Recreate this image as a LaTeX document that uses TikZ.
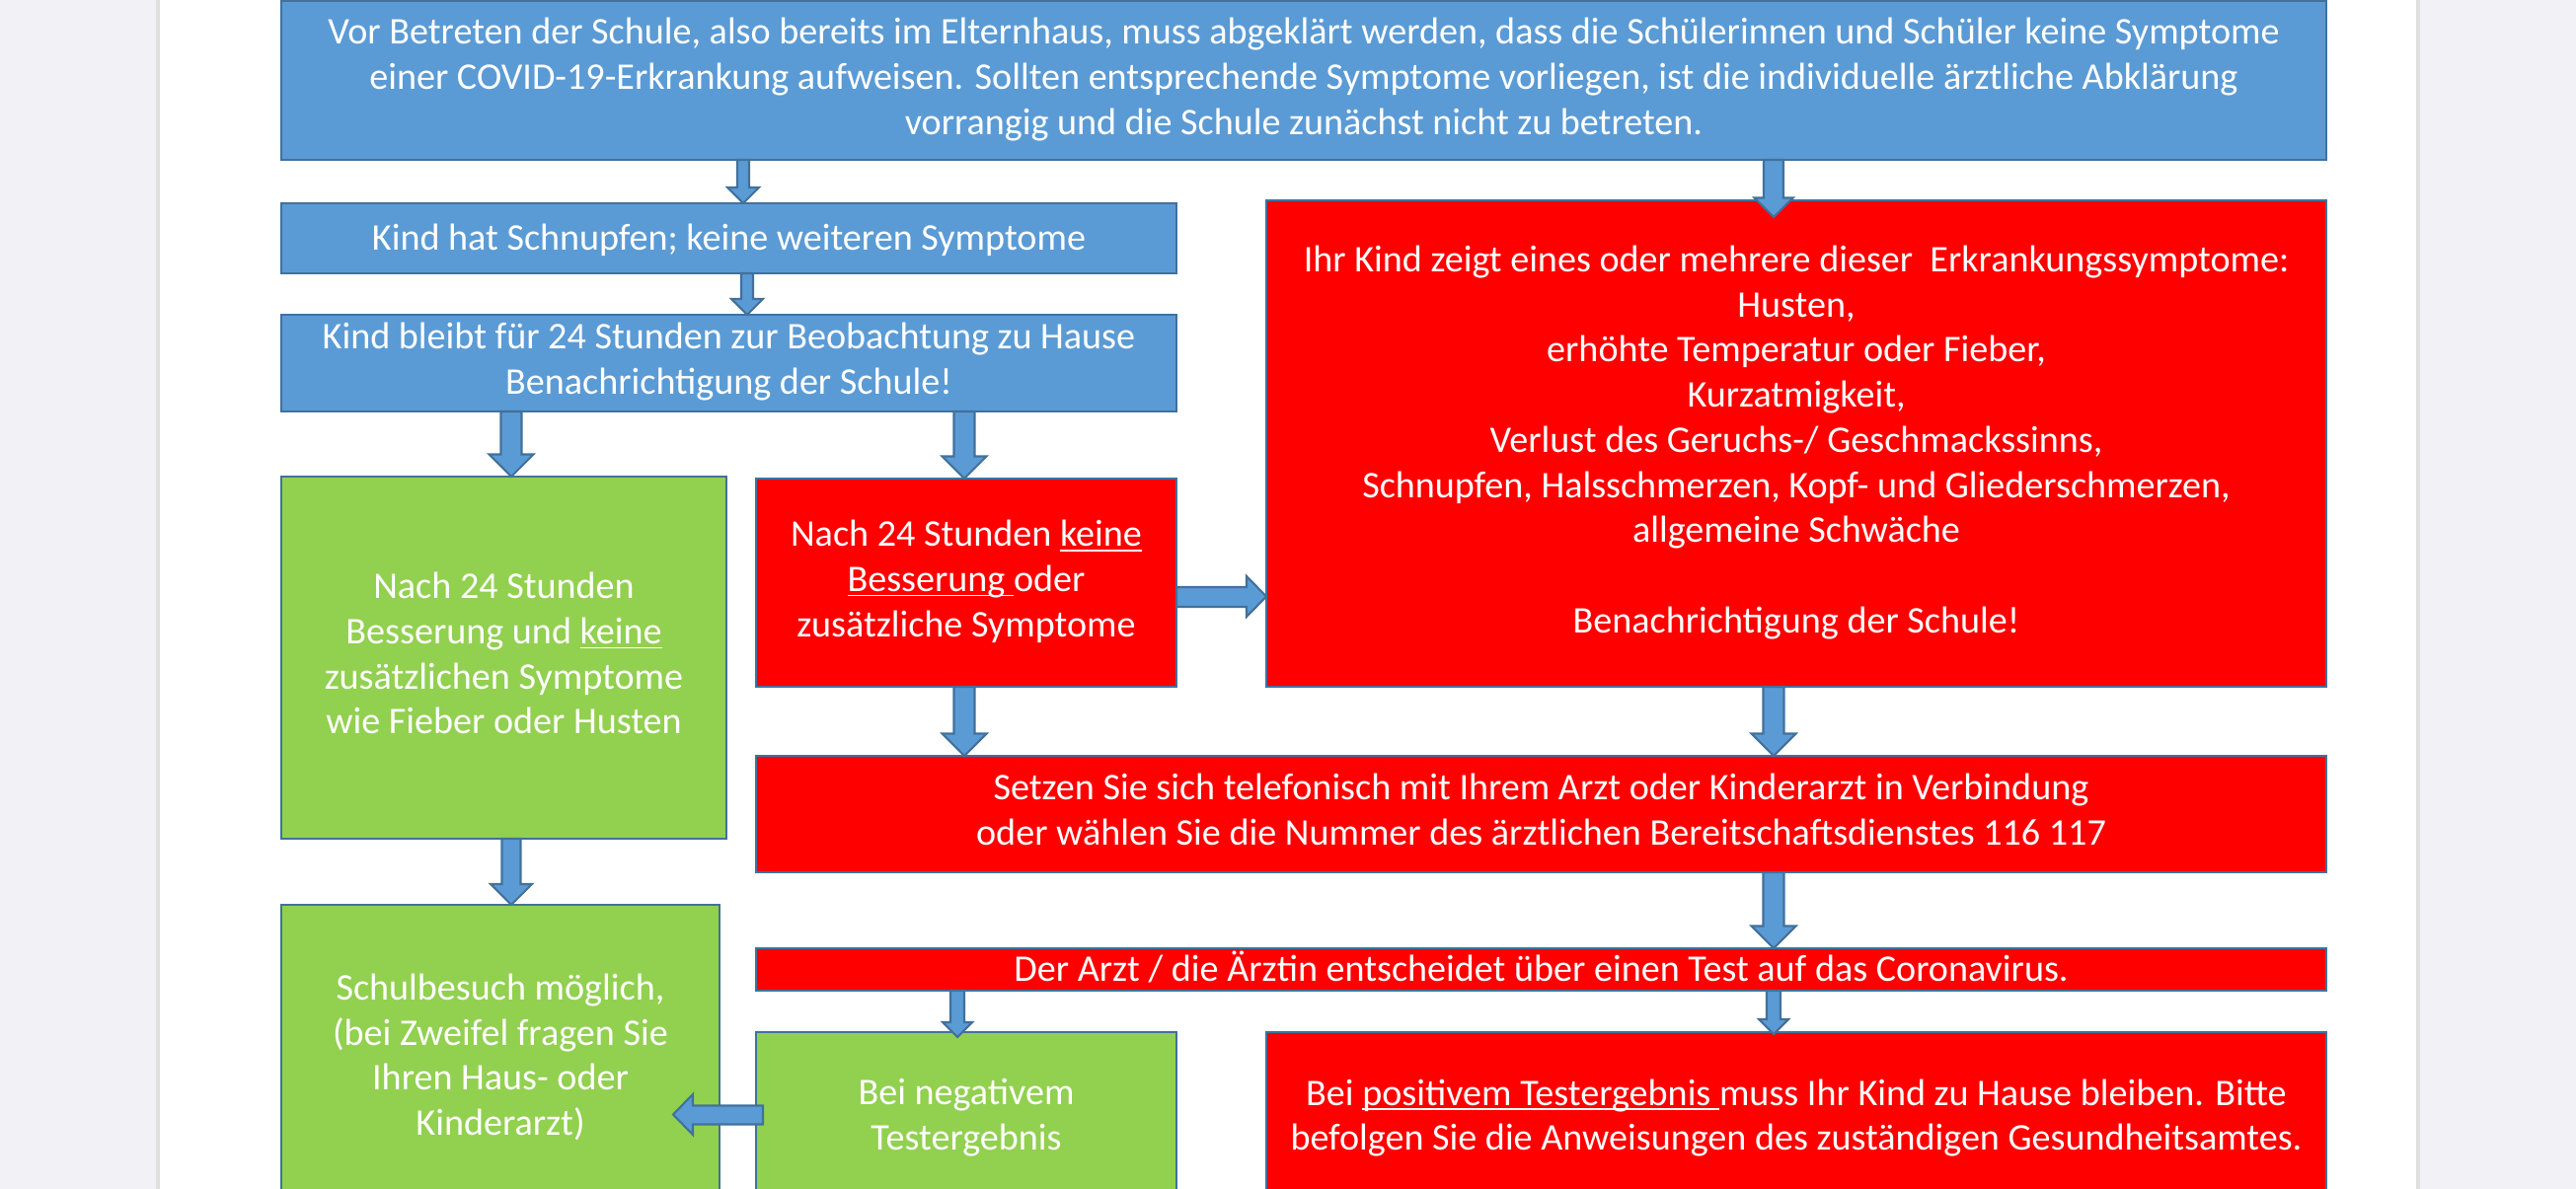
\documentclass[tikz,border=0pt]{standalone}
\usepackage{fontspec}
\setmainfont{Carlito}
\usetikzlibrary{calc}

\definecolor{boxblue}{HTML}{5B9BD5}
\definecolor{boxred}{HTML}{FF0000}
\definecolor{boxgreen}{HTML}{92D050}
\definecolor{edgeblue}{HTML}{41719C}
\definecolor{pagegray}{HTML}{F1F1F6}

% underline close to the baseline
\newsavebox{\ulbox}
\newcommand{\ulword}[1]{\sbox{\ulbox}{#1}\rlap{\rule[-1.4pt]{\wd\ulbox}{0.45pt}}\usebox{\ulbox}}

% block arrow pointing down: x, from, to, half shaft, half head, tip overlap
\newcommand{\flowdown}[6]{%
  \draw[blockarrow] let \p1=(#2.south), \p2=(#3.north) in
    ({#1cm-#4cm},\y1) -- ({#1cm-#4cm},{\y2-#6cm+#5cm})
    -- ({#1cm-#5cm},{\y2-#6cm+#5cm}) -- ({#1cm},{\y2-#6cm})
    -- ({#1cm+#5cm},{\y2-#6cm+#5cm}) -- ({#1cm+#4cm},{\y2-#6cm+#5cm})
    -- ({#1cm+#4cm},\y1) -- cycle;}

\begin{document}
\begin{tikzpicture}[
    box/.style={rectangle, draw=edgeblue, line width=0.8pt, inner sep=0pt,
      outer sep=0pt, anchor=north west, align=center, text=white,
      font=\fontsize{10.85}{13}\selectfont,
      execute at begin node={\rule{0pt}{9.5pt}},
      execute at end node={\rule[-2.5pt]{0pt}{2.5pt}}},
    bluebox/.style={box, fill=boxblue},
    redbox/.style={box, fill=boxred},
    greenbox/.style={box, fill=boxgreen},
    blockarrow/.style={fill=boxblue, draw=edgeblue, line width=0.6pt, line join=miter}]

    \useasboundingbox (0,0) rectangle (26.10,-12.05);
    \clip (0,0) rectangle (26.10,-12.05);
    \fill[pagegray] (0,0) rectangle (26.10,-12.05);
    \fill[white] (1.61,0) rectangle (24.49,-12.05);
    \draw[black!12, line width=0.04cm] (1.60,0) -- (1.60,-12.05) (24.50,0) -- (24.50,-12.05);

    \node[bluebox, minimum width=20.72cm, minimum height=1.61cm] (intro) at (2.85,-0.01)
        {Vor Betreten der Schule, also bereits im Elternhaus, muss abgeklärt werden, dass die Schülerinnen und Schüler keine Symptome\\
         einer COVID-19-Erkrankung aufweisen. Sollten entsprechende Symptome vorliegen, ist die individuelle ärztliche Abklärung\\
         vorrangig und die Schule zunächst nicht zu betreten.};
    \node[bluebox, minimum width=9.07cm, minimum height=0.71cm] (cold) at (2.85,-2.06)
        {Kind hat Schnupfen; keine weiteren Symptome};
    \node[bluebox, minimum width=9.07cm, minimum height=0.98cm] (home) at (2.85,-3.19)
        {Kind bleibt für 24 Stunden zur Beobachtung zu Hause\\ Benachrichtigung der Schule!};
    \node[greenbox, minimum width=4.51cm, minimum height=3.67cm] (better) at (2.85,-4.83)
        {Nach 24 Stunden\\ Besserung und \ulword{keine}\\ zusätzlichen Symptome\\ wie Fieber oder Husten};
    \node[redbox, minimum width=4.26cm, minimum height=2.11cm] (worse) at (7.66,-4.85)
        {Nach 24 Stunden \ulword{keine}\\ \ulword{Besserung }oder\\ zusätzliche Symptome};
    \node[redbox, minimum width=10.74cm, minimum height=4.93cm] (symptoms) at (12.83,-2.03)
        {Ihr Kind zeigt eines oder mehrere dieser\ \ Erkrankungssymptome:\\ Husten,\\
         erhöhte Temperatur oder Fieber,\\ Kurzatmigkeit,\\ Verlust des Geruchs-/ Geschmackssinns,\\
         Schnupfen, Halsschmerzen, Kopf- und Gliederschmerzen,\\ allgemeine Schwäche\\[13pt]
         Benachrichtigung der Schule!};
    \node[redbox, minimum width=15.91cm, minimum height=1.18cm] (call) at (7.66,-7.66)
        {Setzen Sie sich telefonisch mit Ihrem Arzt oder Kinderarzt in Verbindung\\
         oder wählen Sie die Nummer des ärztlichen Bereitschaftsdienstes 116 117};
    \node[redbox, minimum width=15.91cm, minimum height=0.43cm] (test) at (7.66,-9.61)
        {Der Arzt / die Ärztin entscheidet über einen Test auf das Coronavirus.};
    \node[greenbox, minimum width=4.44cm, minimum height=3.12cm] (school) at (2.85,-9.17)
        {Schulbesuch möglich,\\ (bei Zweifel fragen Sie\\ Ihren Haus- oder\\ Kinderarzt)};
    \node[greenbox, minimum width=4.26cm, minimum height=1.76cm] (negative) at (7.66,-10.46)
        {Bei negativem\\ Testergebnis};
    \node[redbox, minimum width=10.74cm, minimum height=1.76cm] (positive) at (12.83,-10.46)
        {Bei \ulword{positivem Testergebnis }muss Ihr Kind zu Hause bleiben. Bitte\\
         befolgen Sie die Anweisungen des zuständigen Gesundheitsamtes.};

    \flowdown{7.53}{intro}{cold}{0.06}{0.16}{0}
    \flowdown{17.97}{intro}{symptoms}{0.10}{0.195}{0.17}
    \flowdown{7.57}{cold}{home}{0.06}{0.16}{0}
    \flowdown{5.18}{home}{better}{0.105}{0.225}{0}
    \flowdown{9.77}{home}{worse}{0.105}{0.225}{0}
    \flowdown{9.77}{worse}{call}{0.105}{0.225}{0}
    \flowdown{17.97}{symptoms}{call}{0.105}{0.225}{0}
    \flowdown{17.97}{call}{test}{0.105}{0.225}{0}
    \flowdown{9.70}{test}{negative}{0.07}{0.15}{0.05}
    \flowdown{17.97}{test}{positive}{0.07}{0.15}{0.02}
    \flowdown{5.18}{better}{school}{0.095}{0.21}{0}

    % sideways arrows
    \draw[blockarrow] let \p1=(worse.east), \p2=(symptoms.west) in
        (\x1,-5.95cm) -- ({\x2-0.20cm},-5.95cm) -- ({\x2-0.20cm},-5.84cm) -- (\x2,-6.045cm)
        -- ({\x2-0.20cm},-6.25cm) -- ({\x2-0.20cm},-6.15cm) -- (\x1,-6.15cm) -- cycle;
    \draw[blockarrow] let \p1=(negative.west), \p2=(school.east) in
        ({\x1+0.07cm},-11.205cm) -- ({\x2-0.27cm},-11.205cm) -- ({\x2-0.27cm},-11.09cm)
        -- ({\x2-0.47cm},-11.295cm) -- ({\x2-0.27cm},-11.50cm) -- ({\x2-0.27cm},-11.395cm)
        -- ({\x1+0.07cm},-11.395cm) -- cycle;

\end{tikzpicture}
\end{document}
